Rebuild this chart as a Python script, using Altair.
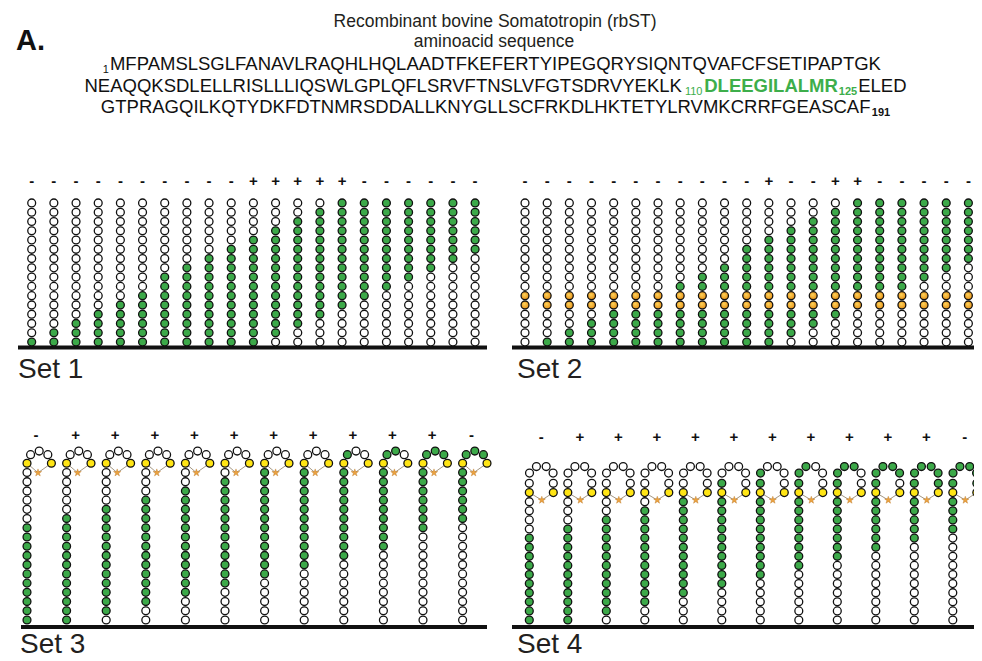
import math
import altair as alt
import pandas as pd

# ------------------------------------------------------------------ data
TITLE = "Recombinant bovine Somatotropin (rbST)"
SUBTITLE = "aminoacid sequence"
SEQ_LINES = [
    [("1", "sub"), ("MFPAMSLSGLFANAVLRAQHLHQLAADTFKEFERTYIPEGQRYSIQNTQVAFCFSETIPAPTGK", "main")],
    [("NEAQQKSDLELLRISLLLIQSWLGPLQFLSRVFTNSLVFGTSDRVYEKLK", "main"), ("110", "sub_green"),
     ("DLEEGILALMR", "bold_green"), ("125", "subbold_green"), ("ELED", "main")],
    [("GTPRAGQILKQTYDKFDTNMRSDDALLKNYGLLSCFRKDLHKTETYLRVMKCRRFGEASCAF", "main"), ("191", "subbold")],
]
PANEL_LABEL = "A."
SET_NAMES = ["Set 1", "Set 2", "Set 3", "Set 4"]

# green window (first, last residue position from the bottom) for each peptide column
SET1_SIGNS = list("----------+++++------")
SET1_GREEN = [(1, 1), (1, 2), (1, 3), (1, 4), (1, 5), (1, 6), (1, 8), (1, 9), (1, 10), (1, 11), (1, 12),
              (2, 13), (3, 14), (4, 15), (5, 16), (6, 16), (7, 16), (8, 16), (9, 16), (10, 16), (11, 16)]
SET2_SIGNS = list("-----------+--++-----")
SET2_GREEN = [(0, 0), (1, 1), (1, 2), (1, 3), (1, 4), (1, 5), (1, 6), (1, 7), (1, 8), (1, 9), (1, 11),
              (1, 12), (2, 13), (3, 14), (4, 15), (5, 16), (6, 16), (7, 16), (8, 16), (9, 16), (10, 16)]
SET2_ORANGE = [5, 6]
SET3_SIGNS = list("-++++++++++-")
SET3_GREEN = [(1, 11), (1, 12), (2, 13), (3, 14), (4, 15), (5, 16), (6, 17), (7, 18), (8, 19), (9, 20),
              (11, 21), (12, 22)]
SET4_SIGNS = list("-++++++++++-")
SET4_GREEN = [(1, 10), (1, 11), (2, 12), (3, 13), (4, 14), (5, 16), (6, 17), (7, 18), (8, 19), (9, 20),
              (10, 21), (11, 21)]

# ------------------------------------------------------------------ style / layout
GREEN = "#3CA949"
TEXT_GREEN = "#3DAE4B"
WHITE = "#FFFFFF"
YELLOW = "#FFE514"
STAR = "#EBA240"
INK = "#111111"
FONT = "Liberation Sans, Arial, Helvetica, sans-serif"
W, H = 966, 650

circles, oranges, stars, bridges, signs = [], [], [], [], []


def linear_panel(x0, dx, ybot, dy, n, greens, sign_list, sign_y, orange_pos=()):
    for c, (lo, hi) in enumerate(greens):
        x = x0 + c * dx
        for p in range(1, n + 1):
            y = ybot - (p - 1) * dy
            if p in orange_pos:
                oranges.append(dict(x=x, y=y))
            else:
                circles.append(dict(x=x, y=y, fill=GREEN if lo <= p <= hi else WHITE))
        signs.append(dict(x=x, y=sign_y, t=sign_list[c]))


def hairpin_panel(x0, dx, ybot, dy, nstem, loop, yr_dx, star_off, greens, sign_list, sign_y, sign_dx):
    for c, (lo, hi) in enumerate(greens):
        xl = x0 + c * dx
        ytop = ybot - nstem * dy
        pos = [(xl, ybot - (p - 1) * dy, "aa") for p in range(1, nstem + 1)]
        pos.append((xl, ytop, "cys"))
        pos += [(xl + ox, ytop + oy, "aa") for ox, oy in loop]
        pos.append((xl + yr_dx, ytop, "cys"))
        for i, (x, y, kind) in enumerate(pos, start=1):
            fill = YELLOW if kind == "cys" else (GREEN if lo <= i <= hi else WHITE)
            circles.append(dict(x=x, y=y, fill=fill))
        sx, sy = xl + star_off[0], ytop + star_off[1]
        stars.append(dict(x=sx, y=sy))
        bridges.append(dict(x=xl, y=ytop, x2=sx, y2=sy))
        bridges.append(dict(x=xl + yr_dx, y=ytop, x2=sx, y2=sy))
        signs.append(dict(x=xl + sign_dx, y=sign_y, t=sign_list[c]))


def arc(cx, cy, r, angles):
    return [(cx + r * math.cos(math.radians(a)), cy - r * math.sin(math.radians(a))) for a in angles]


linear_panel(31.7, 22.17, 342.0, 9.27, 16, SET1_GREEN, SET1_SIGNS, 181)
linear_panel(525.0, 22.17, 342.0, 9.27, 16, SET2_GREEN, SET2_SIGNS, 181, SET2_ORANGE)
loop3 = arc(12.2, 0.0, 12.2, [135, 90, 45])
hairpin_panel(27.0, 39.6, 620.0, 9.22, 17, loop3, 24.4, (11.0, 9.5), SET3_GREEN, SET3_SIGNS, 435, 9)
loop4 = [(0.0, -9.3)] + arc(12.0, -14.0, 13.0, [155, 112, 68, 25]) + [(24.0, -9.3)]
hairpin_panel(529.3, 38.5, 620.0, 9.1, 14, loop4, 24.0, (12.5, 7.5), SET4_GREEN, SET4_SIGNS, 437, 12)

baselines = pd.DataFrame([
    dict(x=18, x2=487, y=347.5), dict(x=512, x2=978, y=347.5),
    dict(x=21, x2=487, y=627), dict(x=512, x2=978, y=627),
])
set_labels = pd.DataFrame([
    dict(x=18, y=378, t=SET_NAMES[0]), dict(x=517, y=378, t=SET_NAMES[1]),
    dict(x=20, y=653, t=SET_NAMES[2]), dict(x=517, y=653, t=SET_NAMES[3]),
])

# ---- sequence text segments (Arial metrics used only to place the pieces)
UP = "ABCDEFGHIJKLMNOPQRSTUVWXYZ0123456789"
REG = dict(zip(UP, [667, 667, 722, 722, 667, 611, 778, 722, 278, 500, 667, 556, 833, 722, 778, 667, 778,
                    722, 667, 611, 722, 667, 944, 667, 667, 611] + [556] * 10))
BLD = dict(zip(UP, [722, 722, 722, 722, 667, 611, 778, 722, 278, 556, 722, 611, 833, 722, 778, 667, 778,
                    722, 667, 611, 722, 667, 944, 667, 667, 611] + [556] * 10))
MAIN, SUB = 18.5, 11
STYLES = {
    "main": (MAIN, False, INK, 0), "sub": (SUB, False, INK, 3),
    "sub_green": (SUB, False, TEXT_GREEN, 3), "bold_green": (MAIN, True, TEXT_GREEN, 0),
    "subbold_green": (SUB, True, TEXT_GREEN, 3), "subbold": (SUB, True, INK, 3),
}
LINE_BASE = [70, 92, 113]
seg_rows = []
for base, line in zip(LINE_BASE, SEQ_LINES):
    widths = []
    for txt, st in line:
        size, bold, _, _ = STYLES[st]
        tab = BLD if bold else REG
        widths.append(sum(tab[ch] for ch in txt) / 1000 * size + 1.0)
    x = 496 - sum(widths) / 2
    for (txt, st), w in zip(line, widths):
        size, bold, col, dy = STYLES[st]
        seg_rows.append(dict(x=x, y=base + dy, t=txt, size=size, bold=bold, col=col))
        x += w
segs = pd.DataFrame(seg_rows)
titles = pd.DataFrame([dict(x=495, y=27, t=TITLE), dict(x=494, y=47, t=SUBTITLE)])
panel = pd.DataFrame([dict(x=16, y=50, t=PANEL_LABEL)])

# ------------------------------------------------------------------ chart
xs = alt.Scale(domain=[8, 8 + W])
ys = alt.Scale(domain=[8, 8 + H], reverse=True)
X = lambda f="x": alt.X(f"{f}:Q", scale=xs, axis=None)
Y = lambda f="y": alt.Y(f"{f}:Q", scale=ys, axis=None)

rules = alt.Chart(baselines).mark_rule(color=INK, strokeWidth=4).encode(X(), alt.X2("x2"), Y())
bridge = alt.Chart(pd.DataFrame(bridges)).mark_rule(color="#8C7B62", strokeWidth=0.8).encode(
    X(), Y(), alt.X2("x2"), alt.Y2("y2"))
dots = alt.Chart(pd.DataFrame(circles)).mark_circle(
    size=62, stroke=INK, strokeWidth=1.3, opacity=1).encode(
    X(), Y(), color=alt.Color("fill:N", scale=None))
orange_dots = alt.Chart(pd.DataFrame(oranges)).mark_circle(
    size=62, stroke=INK, strokeWidth=1.3, opacity=1,
    color=alt.RadialGradient(gradient="radial", x1=0.4, y1=0.35, r1=0, x2=0.5, y2=0.5, r2=0.6,
                             stops=[alt.GradientStop(offset=0, color="#FFD75E"),
                                    alt.GradientStop(offset=1, color="#E5880F")])).encode(X(), Y())
STAR_PATH = "M0,-1L0.24,-0.33L0.95,-0.31L0.38,0.12L0.59,0.81L0,0.4L-0.59,0.81L-0.38,0.12L-0.95,-0.31L-0.24,-0.33Z"
star_marks = alt.Chart(pd.DataFrame(stars)).mark_point(
    shape=STAR_PATH, size=60, filled=True, color=STAR, stroke="#B9782A", strokeWidth=0.4, opacity=1).encode(X(), Y())
sign_marks = alt.Chart(pd.DataFrame(signs)).mark_text(
    font=FONT, fontSize=15, fontWeight="bold", align="center", baseline="middle", color=INK).encode(
    X(), Y(), text="t:N")
label_marks = alt.Chart(set_labels).mark_text(
    font=FONT, fontSize=28, align="left", baseline="alphabetic", color="#231F20").encode(X(), Y(), text="t:N")
title_marks = alt.Chart(titles).mark_text(
    font=FONT, fontSize=17.5, align="center", baseline="alphabetic", color="#231F20").encode(X(), Y(), text="t:N")
seg_reg = alt.Chart(segs[~segs.bold]).mark_text(
    font=FONT, align="left", baseline="alphabetic").encode(
    X(), Y(), text="t:N", size=alt.Size("size:Q", scale=None), color=alt.Color("col:N", scale=None))
seg_bold = alt.Chart(segs[segs.bold]).mark_text(
    font=FONT, fontWeight="bold", align="left", baseline="alphabetic").encode(
    X(), Y(), text="t:N", size=alt.Size("size:Q", scale=None), color=alt.Color("col:N", scale=None))
panel_mark = alt.Chart(panel).mark_text(
    font=FONT, fontSize=29, fontWeight="bold", align="left", baseline="alphabetic", color=INK).encode(
    X(), Y(), text="t:N")

chart = alt.layer(
    rules, bridge, dots, orange_dots, star_marks, sign_marks, label_marks,
    title_marks, seg_reg, seg_bold, panel_mark,
).properties(width=W, height=H, padding=0, autosize="none", background="white").configure_view(strokeWidth=0)

chart.save("out.html", embed_options={"renderer": "svg", "actions": False})
